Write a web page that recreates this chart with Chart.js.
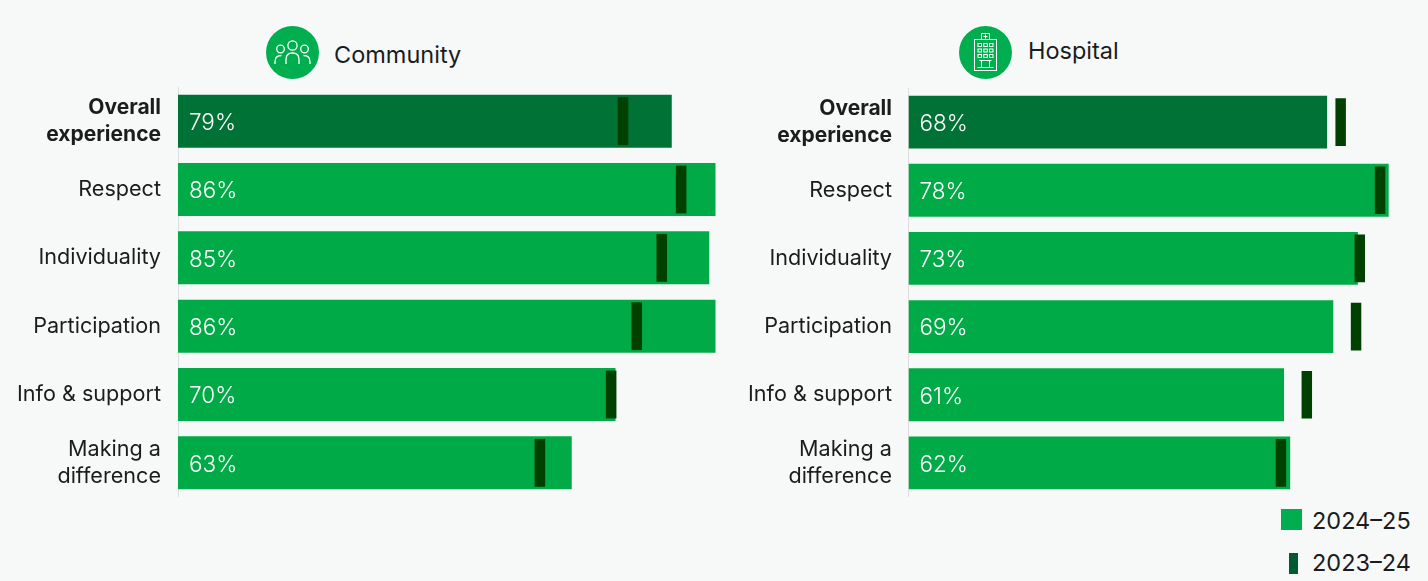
<!DOCTYPE html>
<html>
<head>
<meta charset="utf-8">
<title>Patient experience</title>
<script src="https://cdn.jsdelivr.net/npm/chart.js@4"></script>
<style>
  html, body { margin: 0; padding: 0; }
  body { width: 1428px; height: 581px; background: #f7f9f9; position: relative; overflow: hidden;
         font-family: Inter, "Noto Sans", sans-serif; color: #1c1c1c; }
  .box { position: absolute; }
  .title { position: absolute; font-size: 23.5px; line-height: 30px; }
  .icon { position: absolute; width: 53px; height: 53px; top: 26px; }
  .key { position: absolute; left: 1312px; font-size: 23.5px; line-height: 30px; }
  .swatch { position: absolute; }
</style>
</head>
<body>

<svg class="icon" style="left:266px" viewBox="0 0 53 53">
  <circle cx="26.5" cy="26.5" r="26.5" fill="#00ae4f"/>
  <g fill="none" stroke="#fff" stroke-width="1.3">
    <circle cx="14.5" cy="23" r="3.8"/>
    <circle cx="26.5" cy="19.5" r="4.6"/>
    <circle cx="38.5" cy="23" r="3.8"/>
    <path d="M9 38v-2.5c0-4 2.5-6 6.5-6"/>
    <path d="M44 38v-2.5c0-4-2.5-6-6.5-6"/>
    <path d="M20 38v-4.5c0-4 2.5-6.5 6.5-6.5s6.5 2.500 6.500 6.500V38"/>
  </g>
</svg>
<div class="title" style="left:334px;top:40px">Community</div>

<svg class="icon" style="left:959px" viewBox="0 0 53 53">
  <circle cx="26.5" cy="26.500" r="26.5" fill="#00ae4f"/>
  <g fill="none" stroke="#fff" stroke-width="1">
    <rect x="22.500" y="7.500" width="8" height="6"/>
    <path d="M26.500 8.500v4M24.500 10.500h4"/>
    <rect x="15.500" y="13.500" width="22" height="31"/>
    <rect x="19" y="17.500" width="3.500" height="3"/><rect x="24.800" y="17.500" width="3.500" height="3"/><rect x="30.500" y="17.500" width="3.500" height="3"/>
    <rect x="19" y="23" width="3.500" height="3"/><rect x="24.800" y="23" width="3.500" height="3"/><rect x="30.500" y="23" width="3.500" height="3"/>
    <rect x="19" y="28.500" width="3.500" height="3"/><rect x="24.800" y="28.500" width="3.500" height="3"/><rect x="30.500" y="28.500" width="3.500" height="3"/>
    <path d="M20.500 34.500h12M22.500 34.500v7M30.500 34.500v7M18.500 41.500h16"/>
  </g>
</svg>
<div class="title" style="left:1028px;top:36px">Hospital</div>

<div class="box" style="left:0;top:87px;width:728px;height:410px"><canvas id="communityChart"></canvas></div>
<div class="box" style="left:700px;top:88px;width:701px;height:409px"><canvas id="hospitalChart"></canvas></div>

<div class="swatch" style="left:1281px;top:509px;width:21px;height:21px;background:#00ae4f"></div>
<div class="key" style="top:506px">2024–25</div>
<div class="swatch" style="left:1289px;top:553px;width:9px;height:21px;background:#005c30"></div>
<div class="key" style="top:548px">2023–24</div>

<script>
const categories = [["Overall", "experience"], "Respect", "Individuality", "Participation", "Info & support", ["Making a", "difference"]];

const communityCurrent = [79, 86, 85, 86, 70, 63];
const communityPrevious = [71.2, 80.5, 77.4, 73.4, 69.3, 57.9];

const hospitalCurrent = [68, 78, 73, 69, 61, 62];
const hospitalPrevious = [70.2, 76.6, 73.3, 72.7, 64.7, 60.5];

const GREEN = "#00ab47";
const DARK_GREEN = "#007236";
const MARKER = "#004000";

// percentage written just inside the start of each bar
const insideLabels = {
  id: "insideLabels",
  afterDatasetsDraw(chart) {
    const ctx = chart.ctx;
    const meta = chart.getDatasetMeta(1);
    const values = chart.data.datasets[1].data;
    ctx.save();
    ctx.font = "300 22.5px Inter";
    ctx.fillStyle = "#ffffff";
    ctx.textAlign = "left";
    ctx.textBaseline = "middle";
    meta.data.forEach((bar, i) => {
      ctx.fillText(values[i] + "%", chart.scales.x.left + 11, bar.y + 2);
    });
    ctx.restore();
  }
};

function drawPanel(canvasId, current, previous, axisWidth, maxValue, labelGap) {
  new Chart(document.getElementById(canvasId), {
    type: "bar",
    data: {
      labels: categories,
      datasets: [
        {
          label: "2023–24",
          data: previous.map(v => [v - 0.85, v + 0.85]),
          backgroundColor: MARKER,
          barPercentage: 0.7,
          categoryPercentage: 1,
          grouped: false,
          order: 0
        },
        {
          label: "2024–25",
          data: current,
          backgroundColor: current.map((v, i) => i === 0 ? DARK_GREEN : GREEN),
          barPercentage: 0.775,
          categoryPercentage: 1,
          grouped: false,
          order: 1
        }
      ]
    },
    options: {
      indexAxis: "y",
      responsive: true,
      maintainAspectRatio: false,
      animation: false,
      layout: { padding: 0 },
      plugins: {
        legend: { display: false },
        tooltip: { enabled: false }
      },
      scales: {
        x: { display: false, min: 0, max: maxValue },
        y: {
          // two-line ticks would otherwise pad the plot area top and bottom
          afterFit(scale) {
            scale.width = axisWidth;
            scale.paddingTop = 0;
            scale.paddingBottom = 0;
          },
          grid: { display: false },
          border: { color: "#dcdedd", width: 1 },
          ticks: {
            padding: labelGap,
            color: "#1c1c1c",
            autoSkip: false,
            font: ctx => ({
              family: "Inter",
              size: ctx.index === 0 ? 21 : 21.6,
              lineHeight: 1.28,
              weight: ctx.index === 0 ? "bold" : "normal"
            })
          }
        }
      }
    },
    plugins: [insideLabels]
  });
}

drawPanel("communityChart", communityCurrent, communityPrevious, 178, 88, 9);
drawPanel("hospitalChart", hospitalCurrent, hospitalPrevious, 208.5, 80, 8.5);
</script>
</body>
</html>
